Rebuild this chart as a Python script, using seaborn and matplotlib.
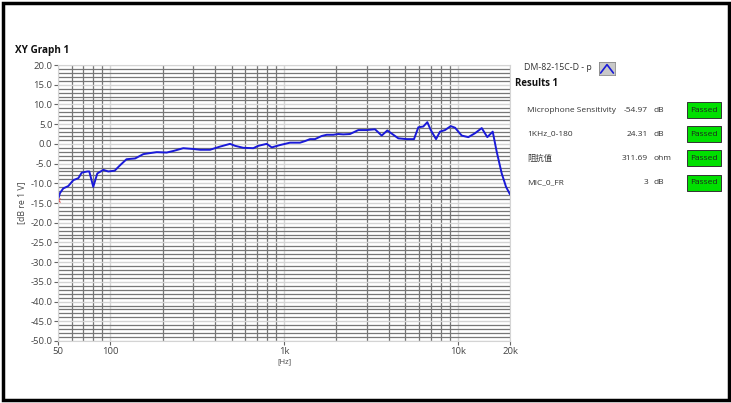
import numpy as np
import pandas as pd
import seaborn as sns
import matplotlib
matplotlib.use("Agg")
import matplotlib.pyplot as plt
from matplotlib.ticker import FixedLocator, NullFormatter, LogLocator
from matplotlib.patches import Rectangle

# frequency response
freq_hz = [50, 51.3, 53.6, 57.3, 61.3, 65.5, 68.5, 73.8, 75.7, 79.8, 84.2, 91.2, 97.4,
           106, 114, 124, 139, 155, 166, 185, 211, 231, 263, 300, 329, 375, 428, 489,
           523, 583, 666, 711, 795, 850, 949, 1083, 1237, 1321, 1412, 1508, 1649, 1762,
           1923, 2054, 2194, 2399, 2678, 2993, 3342, 3651, 3933, 4550, 5087, 5603, 5934,
           6338, 6686, 6996, 7504, 7911, 8452, 9115, 9649, 10545, 11512, 12580, 13751,
           14806, 15905, 16769, 17918, 18976, 20000]
level_db = [-14.2, -12.5, -11.3, -10.7, -9.2, -8.7, -7.3, -7.0, -7.0, -10.9, -7.5, -6.6, -7.0,
            -6.8, -5.4, -3.9, -3.7, -2.6, -2.4, -2.1, -2.2, -1.8, -1.1, -1.3, -1.5, -1.5, -0.7, 0.0,
            -0.5, -1.0, -1.1, -0.5, 0.0, -0.9, -0.3, 0.3, 0.3, 0.7, 1.2, 1.2, 2.0, 2.3,
            2.3, 2.5, 2.4, 2.5, 3.5, 3.5, 3.7, 2.1, 3.4, 1.4, 1.2, 1.2, 4.2,
            4.4, 5.5, 3.5, 1.2, 3.1, 3.5, 4.5, 4.1, 2.1, 1.7, 2.7, 4.0,
            1.7, 3.1, -2.0, -7.5, -10.9, -12.8]

y_ticks = [20, 15, 10, 5, 0, -5, -10, -15, -20, -25, -30, -35, -40, -45, -50]
x_ticks = [50, 100, 1000, 10000, 20000]
x_tick_labels = ["50", "100", "1k", "10k", "20k"]

result_names = ["Microphone Sensitivity", "1KHz_0-180", "阻抗值", "MIC_0_FR"]
result_values = ["-54.97", "24.31", "311.69", "3"]
result_units = ["dB", "dB", "ohm", "dB"]
result_status = ["Passed", "Passed", "Passed", "Passed"]

df = pd.DataFrame({"freq": freq_hz, "level": level_db})

sns.set_style("white")
plt.rcParams["font.family"] = ["Open Sans", "Noto Sans CJK TC", "DejaVu Sans"]

fig = plt.figure(figsize=(7.31, 4.03), dpi=100)
ax = fig.add_axes([58 / 731, 1 - 341 / 403, 452 / 731, 276 / 403])

sns.lineplot(data=df, x="freq", y="level", ax=ax, color="#1a1ad8", linewidth=1.4)
ax.plot(freq_hz[0], level_db[0], marker="x", color="#e04040", markersize=3, mew=0.8)

ax.set_xscale("log")
ax.set_xlim(50, 20000)
ax.set_ylim(-50, 20)
ax.xaxis.set_major_locator(FixedLocator(x_ticks))
ax.set_xticklabels(x_tick_labels)
ax.xaxis.set_minor_locator(LogLocator(base=10, subs=np.arange(2, 10)))
ax.xaxis.set_minor_formatter(NullFormatter())
ax.set_yticks(y_ticks)
ax.set_yticklabels([f"{v:.1f}" for v in y_ticks])
ax.yaxis.set_minor_locator(FixedLocator(np.arange(-50, 21, 1)))

ax.grid(which="minor", color="#777777", linewidth=0.9)
ax.grid(which="major", color="#d4d4d4", linewidth=1.0)
ax.set_axisbelow(True)
ax.tick_params(which="major", length=3, width=0.8, color="#666666", labelsize=6.8,
               labelcolor="#444444", pad=1, left=True, bottom=True)
ax.tick_params(which="minor", length=0)
for s in ax.spines.values():
    s.set_color("#d4d4d4")
    s.set_linewidth(0.8)

ax.set_xlabel("[Hz]", fontsize=5.5, color="#444444", labelpad=2)
ax.set_ylabel("[dB re 1 V]", fontsize=6.3, color="#444444", labelpad=3)

fig.text(15 / 731, 1 - 50 / 403, "XY Graph 1", fontsize=7.2, fontweight="bold",
         va="center", ha="left", color="#111111")

# legend entry
fig.text(524 / 731, 1 - 68 / 403, "DM-82-15C-D - p", fontsize=6.3, va="center", ha="left",
         color="#333333")
icon = fig.add_axes([599 / 731, 1 - 75 / 403, 16 / 731, 13 / 403])
icon.set_facecolor("#c8c8c8")
icon.plot([0.1, 0.5, 0.9], [0.15, 0.8, 0.15], color="#1a1ad8", linewidth=1.2)
icon.set_xlim(0, 1)
icon.set_ylim(0, 1)
icon.set_xticks([])
icon.set_yticks([])
for s in icon.spines.values():
    s.set_color("#888888")
    s.set_linewidth(0.6)

fig.text(515 / 731, 1 - 84 / 403, "Results 1", fontsize=6.9, fontweight="bold",
         va="center", ha="left", color="#111111")

row_y = [110, 134, 158.5, 183]
for name, val, unit, status, yy in zip(result_names, result_values, result_units,
                                        result_status, row_y):
    yf = 1 - yy / 403
    fig.text(527 / 731, yf, name, fontsize=6.0, va="center", ha="left", color="#333333")
    fig.text(648 / 731, yf, val, fontsize=6.0, va="center", ha="right", color="#333333")
    fig.text(654 / 731, yf, unit, fontsize=6.0, va="center", ha="left", color="#333333")
    fig.patches.append(Rectangle((687 / 731, 1 - (yy + 8) / 403), 34 / 731, 16 / 403,
                                 transform=fig.transFigure, facecolor="#00e000",
                                 edgecolor="#333333", linewidth=0.7))
    fig.text(704 / 731, yf, status, fontsize=6, va="center", ha="center", color="#222222")

# outer frame
fig.patches.append(Rectangle((2.5 / 731, 3 / 403), 726 / 731, 397 / 403,
                             transform=fig.transFigure, fill=False,
                             edgecolor="black", linewidth=2.5))

fig.savefig("out.png", dpi=100)
